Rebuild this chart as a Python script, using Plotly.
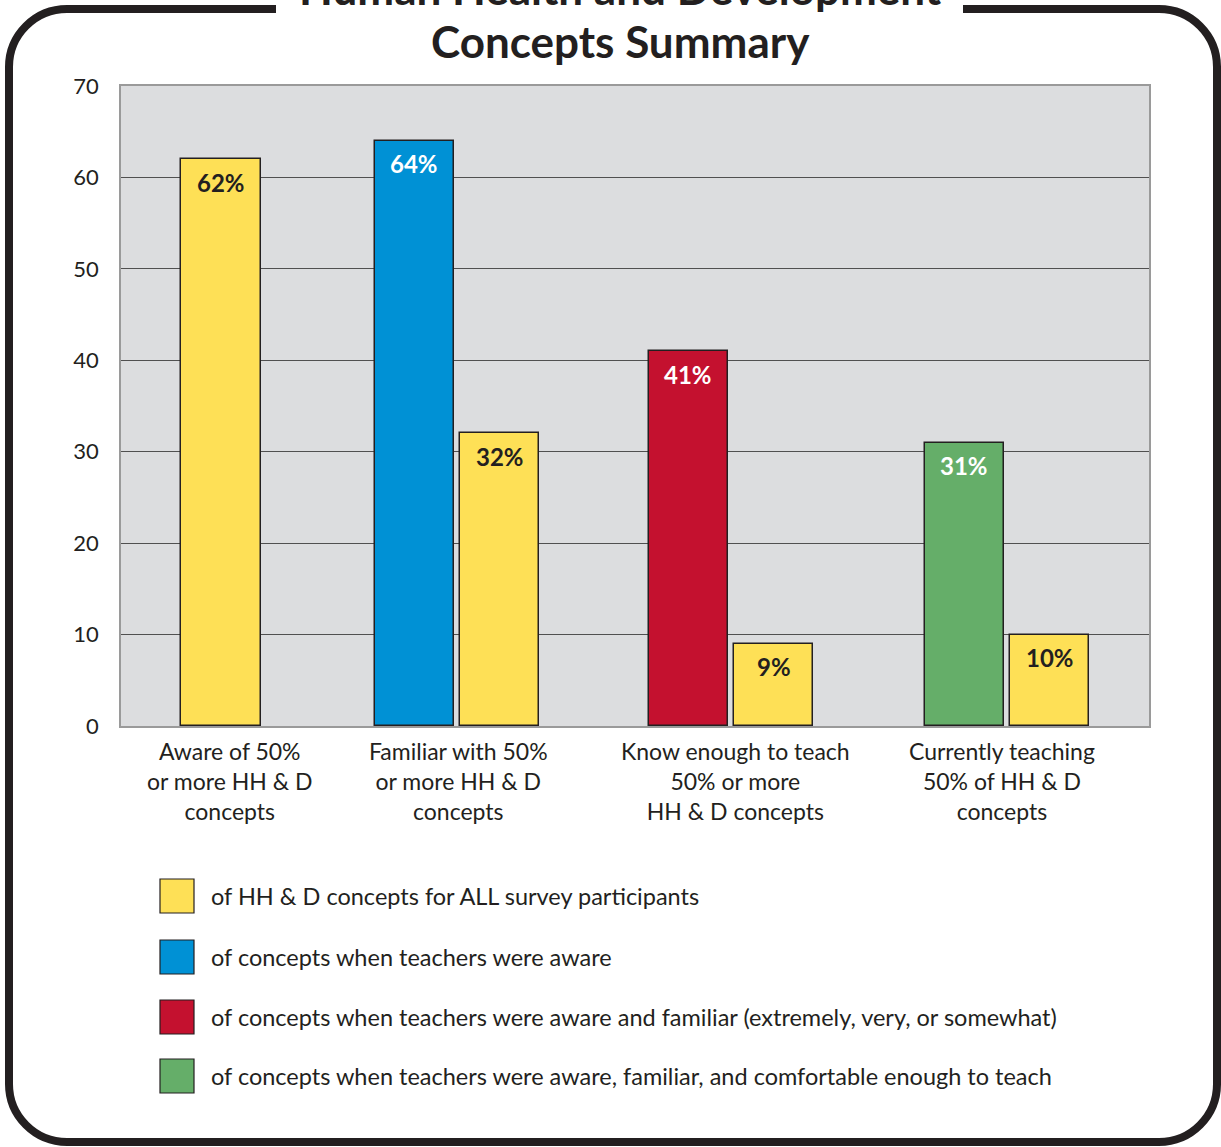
import plotly.graph_objects as go

# ---- data -------------------------------------------------------------
categories = [
    "Aware of 50%<br>or more HH & D<br>concepts",
    "Familiar with 50%<br>or more HH & D<br>concepts",
    "Know enough to teach<br>50% or more<br>HH & D concepts",
    "Currently teaching<br>50% of HH & D<br>concepts",
]
all_participants = [62, 32, 9, 10]

subgroup_categories = [categories[1], categories[2], categories[3]]
subgroup_values = [64, 41, 31]

legend_labels = [
    "of HH & D concepts for ALL survey participants",
    "of concepts when teachers were aware",
    "of concepts when teachers were aware and familiar (extremely, very, or somewhat)",
    "of concepts when teachers were aware, familiar, and comfortable enough to teach",
]
y_ticks = [0, 10, 20, 30, 40, 50, 60, 70]

title_top = "Human Health and Development"
title_bottom = "Concepts Summary"

# ---- styling ----------------------------------------------------------
INK = "#231f20"
YELLOW = "#fee056"
SUB_COLORS = ["#0091d5", "#c4112f", "#65ae69"]
LABEL_COLORS = ["white", "white", "white"]
PLOT_BG = "#dcdddf"
FONT = "Lato"

PAGE_W, PAGE_H = 1221, 1147
PL, PR, PT, PB = 121, 1149, 86, 726     # plot box in pixels

BAR_W = 0.302   # bar width in category units
GAP = 0.022     # gap between paired bars
X_RANGE = [-0.335, 3.571]
# small per-group horizontal nudges (category units) for bars and captions
BAR_NUDGE = [0.045, -0.058, -0.017, 0.031]
LABEL_NUDGE = [0.079, -0.051, -0.002, 0.012]


def fx(p):
    return (p - PL) / (PR - PL)


def fy(p):
    return (PB - p) / (PB - PT)


fig = go.Figure()

# offsets: lone bars are centred, paired bars sit either side of the centre
yellow_offsets = []
for i, c in enumerate(categories):
    base = GAP / 2 if c in subgroup_categories else -BAR_W / 2
    yellow_offsets.append(base + BAR_NUDGE[i])

fig.add_trace(go.Bar(
    x=categories, y=all_participants,
    width=BAR_W, offset=yellow_offsets,
    marker=dict(color=YELLOW, line=dict(color=INK, width=1.5)),
    showlegend=False, hoverinfo="skip",
))

sub_offsets = []
for cat, val, col in zip(subgroup_categories, subgroup_values, SUB_COLORS):
    i = categories.index(cat)
    off = -BAR_W - GAP / 2 + BAR_NUDGE[i]
    sub_offsets.append(off)
    fig.add_trace(go.Bar(
        x=[cat], y=[val],
        width=BAR_W, offset=off,
        marker=dict(color=col, line=dict(color=INK, width=1.5)),
        showlegend=False, hoverinfo="skip",
    ))

# value labels just inside the top of each bar
annotations = []
for i, (c, v) in enumerate(zip(categories, all_participants)):
    xc = i + yellow_offsets[i] + BAR_W / 2
    annotations.append(dict(
        x=xc, y=v, xref="x", yref="y", text=f"<b>{v}%</b>",
        showarrow=False, yanchor="middle", yshift=-23,
        font=dict(family=FONT, size=24, color=INK),
    ))
for cat, val, tc, off in zip(subgroup_categories, subgroup_values,
                             LABEL_COLORS, sub_offsets):
    i = categories.index(cat)
    xc = i + off + BAR_W / 2
    annotations.append(dict(
        x=xc, y=val, xref="x", yref="y", text=f"<b>{val}%</b>",
        showarrow=False, yanchor="middle", yshift=-23,
        font=dict(family=FONT, size=24, color=tc),
    ))

# category captions under the axis
for i, c in enumerate(categories):
    annotations.append(dict(
        x=i + LABEL_NUDGE[i], y=fy(735), xref="x", yref="paper",
        xanchor="center", yanchor="top", text=c, showarrow=False,
        align="center",
        font=dict(family=FONT, size=23, color=INK),
    ))

# title, partly running off the top edge
annotations.append(dict(
    x=fx(620), y=fy(-12), xref="paper", yref="paper", xanchor="center",
    yanchor="middle", text=f"<b>{title_top}</b>", showarrow=False,
    font=dict(family=FONT, size=44, color=INK),
))
annotations.append(dict(
    x=fx(620), y=fy(41), xref="paper", yref="paper", xanchor="center",
    yanchor="middle", text=f"<b>{title_bottom}</b>", showarrow=False,
    font=dict(family=FONT, size=44, color=INK),
))

# custom legend
shapes = []
legend_colors = [YELLOW] + SUB_COLORS
row_y = [896, 957, 1017, 1076]
for lab, col, ry in zip(legend_labels, legend_colors, row_y):
    shapes.append(dict(
        type="rect", xref="paper", yref="paper",
        x0=fx(160), x1=fx(194), y0=fy(ry + 17), y1=fy(ry - 17),
        fillcolor=col, line=dict(color=INK, width=1.2),
    ))
    annotations.append(dict(
        x=fx(209), y=fy(ry), xref="paper", yref="paper",
        xanchor="left", yanchor="middle", text=lab, showarrow=False,
        font=dict(family=FONT, size=23.5, color=INK),
    ))

# rounded frame with an opening for the title
L, R, T, B, r = 9, 1217, 9, 1142, 58
k = 0.5523 * r


def P(x, y):
    return f"{fx(x):.5f},{fy(y):.5f}"


path = (
    f"M {P(963, T)} L {P(R - r, T)} "
    f"C {P(R - r + k, T)} {P(R, T + r - k)} {P(R, T + r)} "
    f"L {P(R, B - r)} "
    f"C {P(R, B - r + k)} {P(R - r + k, B)} {P(R - r, B)} "
    f"L {P(L + r, B)} "
    f"C {P(L + r - k, B)} {P(L, B - r + k)} {P(L, B - r)} "
    f"L {P(L, T + r)} "
    f"C {P(L, T + r - k)} {P(L + r - k, T)} {P(L + r, T)} "
    f"L {P(276, T)}"
)
shapes.append(dict(type="path", xref="paper", yref="paper", path=path,
                   line=dict(color=INK, width=8)))

fig.update_layout(
    width=PAGE_W, height=PAGE_H, autosize=False,
    margin=dict(l=PL, r=PAGE_W - PR, t=PT, b=PAGE_H - PB),
    paper_bgcolor="white", plot_bgcolor=PLOT_BG,
    barmode="overlay", bargap=0,
    font=dict(family=FONT, size=22, color=INK),
    annotations=annotations, shapes=shapes,
    showlegend=False,
)
fig.update_xaxes(
    type="category", categoryorder="array", categoryarray=categories,
    range=X_RANGE, showgrid=False, zeroline=False, showticklabels=False,
    showline=True, linecolor="#9a9a9a", linewidth=1.5, mirror=True,
)
fig.update_yaxes(
    range=[0, 70], tickvals=y_ticks, showgrid=True,
    gridcolor="#505050", gridwidth=1.3, zeroline=False,
    showline=True, linecolor="#9a9a9a", linewidth=1.5, mirror=True,
    ticks="outside", ticklen=16, tickcolor="rgba(0,0,0,0)",
    tickfont=dict(family=FONT, size=22, color=INK),
)

fig.write_html("out.html")
